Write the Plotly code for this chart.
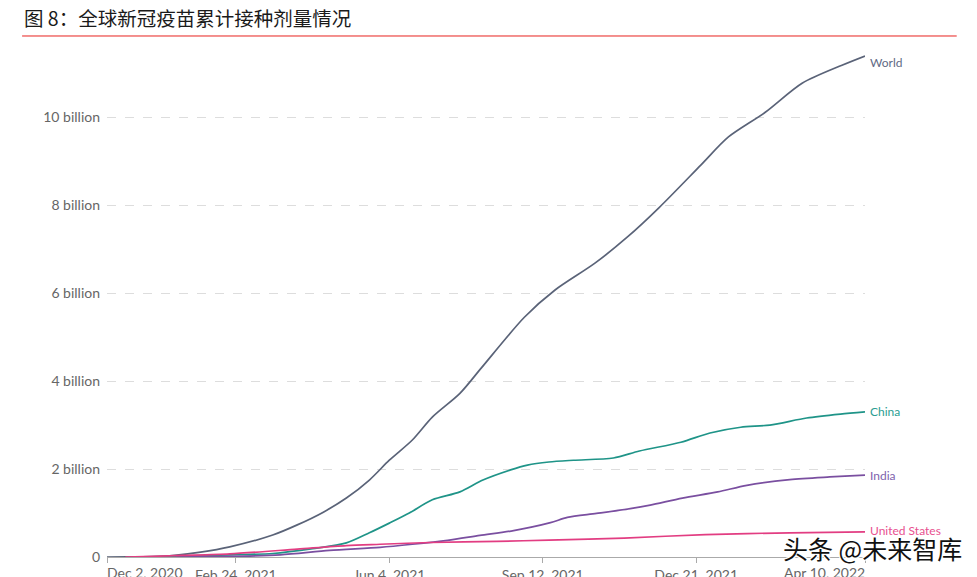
import plotly.graph_objects as go

# ---------------- data (billions of doses) ----------------
world_dates = ["2020-12-02","2020-12-15","2020-12-31","2021-01-15","2021-02-01","2021-02-20",
               "2021-03-20","2021-04-05","2021-04-22","2021-05-07","2021-05-22","2021-06-04",
               "2021-06-19","2021-07-02","2021-07-20","2021-08-03","2021-08-31","2021-09-20",
               "2021-10-16","2021-11-06","2021-11-27","2021-12-24","2022-01-11","2022-02-04",
               "2022-02-28","2022-03-26","2022-04-10"]
world_vals = [0.0, 0.001, 0.01, 0.04, 0.11, 0.23, 0.5, 0.73, 1.02, 1.34, 1.75, 2.2,
              2.66, 3.18, 3.72, 4.3, 5.45, 6.07, 6.68, 7.27, 7.95, 8.91, 9.55, 10.11,
              10.77, 11.18, 11.39]

china_dates = ["2020-12-15","2021-01-15","2021-02-20","2021-03-20","2021-04-15","2021-05-07",
               "2021-05-22","2021-06-04","2021-06-17","2021-07-02","2021-07-20","2021-08-04",
               "2021-08-22","2021-09-02","2021-09-16","2021-10-02","2021-10-28","2021-11-14",
               "2021-12-11","2021-12-30","2022-01-19","2022-02-07","2022-03-03","2022-03-25",
               "2022-04-10"]
china_vals = [0.0, 0.01, 0.05, 0.08, 0.19, 0.32, 0.55, 0.77, 1.0, 1.3, 1.48, 1.75,
              1.98, 2.09, 2.16, 2.2, 2.25, 2.41, 2.61, 2.82, 2.95, 3.0, 3.16, 3.25, 3.3]

india_dates = ["2021-01-16","2021-02-20","2021-03-25","2021-04-26","2021-05-29","2021-06-19",
               "2021-07-12","2021-08-02","2021-08-24","2021-09-17","2021-09-28","2021-10-17",
               "2021-11-08","2021-11-21","2021-12-12","2022-01-04","2022-01-23","2022-02-20",
               "2022-03-18","2022-04-10"]
india_vals = [0.0, 0.012, 0.05, 0.15, 0.22, 0.29, 0.38, 0.49, 0.6, 0.78, 0.9, 0.99,
              1.1, 1.18, 1.34, 1.48, 1.63, 1.76, 1.82, 1.86]

us_dates = ["2020-12-14","2021-01-01","2021-01-20","2021-02-20","2021-04-05","2021-05-07",
            "2021-05-29","2021-07-01","2021-08-13","2021-09-16","2021-11-04","2021-12-27",
            "2022-02-20","2022-04-10"]
us_vals = [0.0, 0.015, 0.035, 0.07, 0.18, 0.26, 0.29, 0.33, 0.355, 0.385, 0.43, 0.51,
           0.55, 0.57]

series = [
    ("World", world_dates, world_vals, "#5a6378", "#5f6a85"),
    ("China", china_dates, china_vals, "#1f9488", "#2a9d92"),
    ("India", india_dates, india_vals, "#7a4fa0", "#7e62ad"),
    ("United States", us_dates, us_vals, "#e23d82", "#e8508f"),
]

x_tick_vals = ["2020-12-02","2021-02-24","2021-06-04","2021-09-12","2021-12-21","2022-04-10"]
x_tick_text = ["Dec 2, 2020","Feb 24, 2021","Jun 4, 2021","Sep 12, 2021","Dec 21, 2021","Apr 10, 2022"]
y_tick_vals = [0, 2, 4, 6, 8, 10]
y_tick_text = ["0", "2 billion", "4 billion", "6 billion", "8 billion", "10 billion"]

title_text = "图 8：全球新冠疫苗累计接种剂量情况"
watermark = "头条 @未来智库"

# ---------------- figure ----------------
fig = go.Figure()
for name, d, v, c, lc in series:
    fig.add_trace(go.Scatter(x=d, y=v, mode="lines", name=name,
                             line=dict(color=c, width=1.7, shape="spline", smoothing=0.8),
                             showlegend=False, hoverinfo="skip"))

label_offsets = {"World": -6, "China": 0, "India": 0, "United States": 1}
for name, d, v, c, lc in series:
    fig.add_annotation(x=d[-1], y=v[-1], xref="x", yref="y", text=name,
                       showarrow=False, xanchor="left", yanchor="middle",
                       xshift=3, yshift=label_offsets[name],
                       font=dict(family="Lato", size=12, color=lc))

# first / last x tick labels are edge-aligned (left / right) like the reference
tick_font = dict(family="Lato", size=14, color="#666")
shown_ticktext = [""] + x_tick_text[1:-1] + [""]
fig.add_annotation(x=x_tick_vals[0], y=0, xref="x", yref="paper", text=x_tick_text[0],
                   showarrow=False, xanchor="left", yanchor="top", yshift=-5, xshift=-2,
                   font=tick_font)
fig.add_annotation(x=x_tick_vals[-1], y=0, xref="x", yref="paper", text=x_tick_text[-1],
                   showarrow=False, xanchor="right", yanchor="top", yshift=-5, xshift=2,
                   font=tick_font)

fig.add_annotation(x=-0.112, y=1.053, xref="paper", yref="paper", text=title_text,
                   showarrow=False, xanchor="left", yanchor="middle",
                   font=dict(family="Noto Sans CJK SC", size=19.5, color="#1a1a1a"))
fig.add_shape(type="line", xref="paper", yref="paper", x0=-0.112, x1=1.121,
              y0=1.0176, y1=1.0176, line=dict(color="#e8211f", width=1))

fig.add_annotation(x=0.889, y=0.018, xref="paper", yref="paper", text=watermark,
                   showarrow=False, xanchor="left", yanchor="middle",
                   font=dict(family="Noto Sans CJK SC", size=25, color="#111",
                             shadow="1px 1px 0 #fff, -1px -1px 0 #fff, 1px -1px 0 #fff, -1px 1px 0 #fff"))

fig.update_layout(
    width=977, height=577,
    margin=dict(l=107, r=112, t=45, b=20, autoexpand=False),
    paper_bgcolor="white", plot_bgcolor="white",
    font=dict(family="Lato", color="#666"),
    xaxis=dict(type="date", range=["2020-12-02", "2022-04-10"], automargin=False,
               tickmode="array", tickvals=x_tick_vals, ticktext=shown_ticktext,
               showgrid=False, showline=True, linecolor="#aaa", linewidth=1,
               ticks="outside", ticklen=5, tickcolor="#aaa",
               tickfont=tick_font, zeroline=False),
    yaxis=dict(range=[0, 11.64], tickmode="array", tickvals=y_tick_vals, ticktext=y_tick_text,
               automargin=False,
               showgrid=True, gridcolor="#dddddd", griddash="dash", gridwidth=1,
               zeroline=False, showline=False, ticks="", ticklabelstandoff=6,
               tickfont=tick_font),
)

fig.write_html("out.html", config={"displayModeBar": False},
               post_script="document.body.style.margin='0px';document.body.style.overflow='hidden';")
